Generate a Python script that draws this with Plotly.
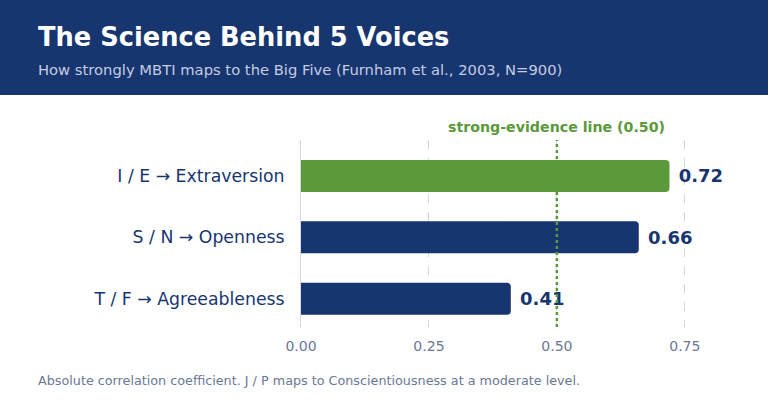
import plotly.graph_objects as go

categories = ["I / E → Extraversion", "S / N → Openness", "T / F → Agreeableness"]
values = [0.72, 0.66, 0.41]
value_labels = ["0.72", "0.66", "0.41"]
threshold = 0.50
x_ticks = [0.0, 0.25, 0.50, 0.75]
x_tick_labels = ["0.00", "0.25", "0.50", "0.75"]

NAVY = "#17356f"
GREEN = "#5b9a3a"
FONT = "DejaVu Sans"

W, H = 768, 403
ML, MR, MT, MB = 301, 32, 140, 76
PW = W - ML - MR
PH = H - MT - MB

def px(xp):
    return (xp - ML) / PW

def py(yp):
    return (H - MB - yp) / PH

bar_colors = [GREEN if v >= 0.7 else NAVY for v in values]

fig = go.Figure()
fig.add_trace(go.Bar(
    y=categories, x=values, orientation="h",
    marker=dict(color=bar_colors, cornerradius=4, line=dict(width=0)),
    width=0.52,
    text=["\u00a0" + t for t in value_labels], textposition="outside",
    textfont=dict(family=FONT, size=18, color=NAVY, weight="bold"),
    cliponaxis=False, hoverinfo="skip",
))

shapes = [
    dict(type="rect", xref="paper", yref="paper", x0=px(0), x1=px(W), y0=py(95), y1=py(0),
         fillcolor=NAVY, line=dict(width=0), layer="below"),
    dict(type="line", xref="x", yref="paper", x0=threshold, x1=threshold, y0=0, y1=1,
         line=dict(color=GREEN, width=2.5, dash="dot"), layer="above"),
]

annotations = [
    dict(text="<b>The Science Behind 5 Voices</b>", xref="paper", yref="paper",
         x=px(36), y=py(37), xanchor="left", yanchor="middle", showarrow=False,
         font=dict(family=FONT, size=25.7, color="white")),
    dict(text="How strongly MBTI maps to the Big Five (Furnham et al., 2003, N=900)",
         xref="paper", yref="paper", x=px(36), y=py(69), xanchor="left", yanchor="middle",
         showarrow=False, font=dict(family=FONT, size=14.75, color="#c3cce3")),
    dict(text="<b>strong-evidence line (0.50)</b>", xref="x", yref="paper",
         x=threshold, y=py(127), xanchor="center", yanchor="middle", showarrow=False,
         font=dict(family=FONT, size=14.2, color=GREEN)),
    dict(text="Absolute correlation coefficient. J / P maps to Conscientiousness at a moderate level.",
         xref="paper", yref="paper", x=px(36), y=py(380), xanchor="left", yanchor="middle",
         showarrow=False, font=dict(family=FONT, size=12.75, color="#6a7895")),
]

fig.update_layout(
    width=W, height=H,
    margin=dict(l=ML, r=MR, t=MT, b=MB),
    paper_bgcolor="white", plot_bgcolor="white",
    showlegend=False, hovermode=False,
    shapes=shapes, annotations=annotations,
    xaxis=dict(range=[0, 0.85], tickvals=x_ticks, ticktext=x_tick_labels,
               showgrid=True, gridcolor="#d3d7de", griddash="dash", gridwidth=1,
               zeroline=False, showline=False, ticks="",
               tickfont=dict(family=FONT, size=14, color="#6a7895"),
               ticklabelstandoff=9),
    yaxis=dict(categoryorder="array", categoryarray=categories,
               range=[2.46, -0.585],
               showgrid=False, zeroline=False, showline=True, linecolor="#d3d7de", linewidth=1,
               ticks="", tickfont=dict(family=FONT, size=17.3, color=NAVY),
               ticklabelstandoff=12),
    bargap=0.47,
)

fig.write_html("out.html")
